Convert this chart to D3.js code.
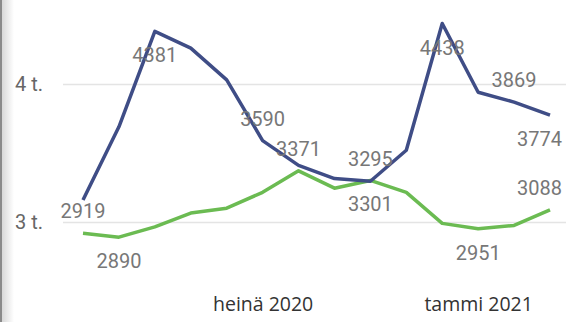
<!DOCTYPE html>
<html>
<head>
<meta charset="utf-8">
<script src="https://cdn.jsdelivr.net/npm/d3@7"></script>
<style>
  body { margin: 0; background: #fff; }
  svg { display: block; }
  .ylab { font-family: "Roboto", sans-serif; font-size: 20px; fill: #666; }
  .xlab { font-family: "Open Sans", sans-serif; font-size: 19.5px; fill: #333; }
  .dlab { font-family: "Roboto", sans-serif; font-size: 20px; fill: #777; }
</style>
</head>
<body>
<svg id="Vis" width="566" height="322"></svg>
<script>
/*
* DATA
*/

const months = ["2020-02", "2020-03", "2020-04", "2020-05", "2020-06", "2020-07", "2020-08",
  "2020-09", "2020-10", "2020-11", "2020-12", "2021-01", "2021-02", "2021-03"];

const blueValues = [3160, 3690, 4381, 4260, 4030, 3590, 3410, 3315, 3295, 3520, 4438, 3940, 3869, 3774];
const greenValues = [2919, 2890, 2965, 3065, 3100, 3215, 3371, 3245, 3301, 3215, 2990, 2951, 2975, 3088];

const yTicks = [3000, 4000];
const xTicks = ["2020-07", "2021-01"];
const xTickLabels = { "2020-07": "heinä 2020", "2021-01": "tammi 2021" };

// which points carry a data label, and on which side
const blueLabels = [[2, "below"], [5, "above"], [8, "above"], [10, "below"], [12, "above"], [13, "below"]];
const greenLabels = [[0, "above"], [1, "below"], [6, "above"], [8, "below"], [11, "below"], [13, "above"]];

/*
* SETUP
*/

const svg = d3.select("svg#Vis");
const W = 566, H = 322;

const x = d3.scalePoint().domain(months).range([83, 550]);
const y = d3.scaleLinear().domain([3000, 4000]).range([222, 84]);

/* left edge shadow */
const defs = svg.append("defs");
const grad = defs.append("linearGradient").attr("id", "shade");
grad.append("stop").attr("offset", "0%").attr("stop-color", "#d8d8d8");
grad.append("stop").attr("offset", "100%").attr("stop-color", "#fff");
svg.append("rect").attr("x", 2).attr("y", 0).attr("width", 12).attr("height", H).attr("fill", "url(#shade)");
svg.append("rect").attr("x", 0).attr("y", 0).attr("width", 2).attr("height", H).attr("fill", "#8a8a8a");

/* Y axis: gridlines + labels */
const yAxis = svg.append("g")
  .attr("transform", "translate(63,0)")
  .call(d3.axisLeft(y).tickValues(yTicks).tickSize(-(W - 63)).tickPadding(20)
    .tickFormat(d => (d / 1000) + " t."));
yAxis.select(".domain").remove();
yAxis.selectAll(".tick line").attr("stroke", "#e4e4e4").attr("stroke-width", 1.5);
yAxis.selectAll(".tick text").attr("class", "ylab").attr("fill", null);

/* X axis */
const xAxis = svg.append("g")
  .attr("transform", "translate(0,291)")
  .call(d3.axisBottom(x).tickValues(xTicks).tickSize(0).tickPadding(0)
    .tickFormat(d => xTickLabels[d]));
xAxis.select(".domain").remove();
xAxis.selectAll(".tick text").attr("class", "xlab").attr("fill", null).attr("dy", "1em");

/*
* LINES
*/

const line = d3.line().x((d, i) => x(months[i])).y(d => y(d));

svg.append("path").datum(greenValues)
  .attr("d", line).attr("fill", "none")
  .attr("stroke", "#6bbb52").attr("stroke-width", 3.5).attr("stroke-linejoin", "round");

svg.append("path").datum(blueValues)
  .attr("d", line).attr("fill", "none")
  .attr("stroke", "#3f4d86").attr("stroke-width", 3.5).attr("stroke-linejoin", "round");

/*
* DATA LABELS
*/

function drawLabels(values, labels) {
  svg.append("g").selectAll("text")
    .data(labels)
    .join("text")
    .attr("class", "dlab")
    .attr("text-anchor", "middle")
    .attr("x", d => x(months[d[0]]))
    .attr("y", d => y(values[d[0]]) + (d[1] === "above" ? -15 : 31))
    .text(d => values[d[0]])
    .each(function() {
      // keep labels inside the right edge, like the original does
      const w = this.getComputedTextLength();
      const cx = +d3.select(this).attr("x");
      if (cx + w / 2 > W - 4) d3.select(this).attr("x", W - 4 - w / 2);
    });
}

drawLabels(blueValues, blueLabels);
drawLabels(greenValues, greenLabels);
</script>
</body>
</html>
